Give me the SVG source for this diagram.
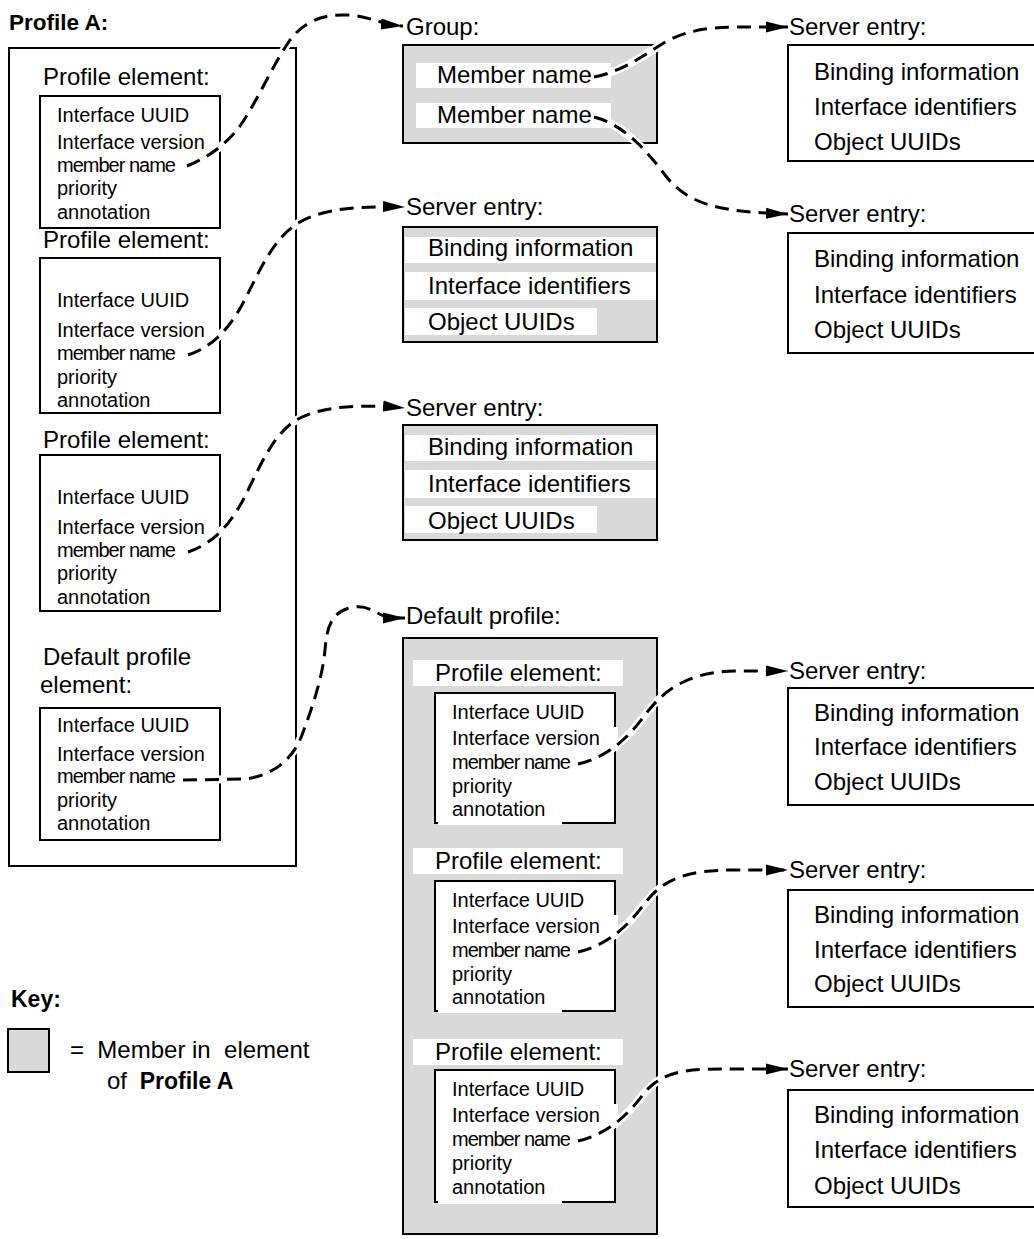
<svg xmlns="http://www.w3.org/2000/svg" width="1034" height="1239" viewBox="0 0 1034 1239">
  <style>
    text { font-family: "Liberation Sans", Arial, Helvetica, sans-serif; fill: #000; }
    .lbl { font-size: 24px; }
    .sm { font-size: 20px; }
    .mn { font-size: 20px; letter-spacing: -1px; }
    .b { font-weight: bold; }
    .box { fill: #fff; stroke: #000; stroke-width: 2; }
    .gray { fill: #d9d9d9; stroke: #000; stroke-width: 2; }
    .bar { fill: #fff; stroke: none; }
    .halo { fill: none; stroke: #fff; stroke-width: 8; }
    .wire { fill: none; stroke: #000; stroke-width: 3; stroke-dasharray: 14 8; marker-end: url(#arr); }
  </style>
  <defs>
    <marker id="arr" markerUnits="userSpaceOnUse" markerWidth="24" markerHeight="12" refX="22" refY="6" orient="auto">
      <path d="M0,0.5 L22,6 L0,11.5 z" fill="#000"/>
    </marker>
  </defs>

  <!-- Profile A and its elements -->
  <g id="profile-a">
    <text class="b" x="9" y="30" style="font-size:22.5px">Profile A:</text>
    <rect class="box" x="9" y="48" width="287" height="818"/>
  </g>

  <g id="pa-element-1">
    <text class="lbl" x="43" y="85">Profile element:</text>
    <rect class="box" x="40" y="96" width="180" height="132"/>
    <text class="sm" x="57" y="122">Interface UUID</text>
    <text class="sm" x="57" y="149">Interface version</text>
    <text class="mn" x="57" y="172">member name</text>
    <text class="sm" x="57" y="195">priority</text>
    <text class="sm" x="57" y="219">annotation</text>
  </g>

  <g id="pa-element-2">
    <text class="lbl" x="43" y="248">Profile element:</text>
    <rect class="box" x="40" y="258" width="180" height="155"/>
    <text class="sm" x="57" y="307">Interface UUID</text>
    <text class="sm" x="57" y="337">Interface version</text>
    <text class="mn" x="57" y="360">member name</text>
    <text class="sm" x="57" y="384">priority</text>
    <text class="sm" x="57" y="407">annotation</text>
  </g>

  <g id="pa-element-3">
    <text class="lbl" x="43" y="448">Profile element:</text>
    <rect class="box" x="40" y="455" width="180" height="156"/>
    <text class="sm" x="57" y="504">Interface UUID</text>
    <text class="sm" x="57" y="534">Interface version</text>
    <text class="mn" x="57" y="557">member name</text>
    <text class="sm" x="57" y="580">priority</text>
    <text class="sm" x="57" y="604">annotation</text>
  </g>

  <g id="pa-default-element">
    <text class="lbl" x="43" y="665">Default profile</text>
    <text class="lbl" x="40" y="693">element:</text>
    <rect class="box" x="40" y="708" width="180" height="132"/>
    <text class="sm" x="57" y="732">Interface UUID</text>
    <text class="sm" x="57" y="761">Interface version</text>
    <text class="mn" x="57" y="783">member name</text>
    <text class="sm" x="57" y="807">priority</text>
    <text class="sm" x="57" y="830">annotation</text>
  </g>

  <!-- Group -->
  <g id="group">
    <text class="lbl" x="406" y="35">Group:</text>
    <rect class="gray" x="403" y="45" width="254" height="98"/>
    <rect class="bar" x="416" y="63" width="195" height="25"/>
    <rect class="bar" x="416" y="103" width="195" height="25"/>
    <text class="lbl" x="437" y="83">Member name</text>
    <text class="lbl" x="437" y="123">Member name</text>
  </g>

  <!-- Server entries in the middle column -->
  <g id="server-entry-m1">
    <text class="lbl" x="406" y="215">Server entry:</text>
    <rect class="gray" x="403" y="227" width="254" height="115"/>
    <rect class="bar" x="405" y="237" width="251" height="26"/>
    <rect class="bar" x="405" y="272" width="251" height="28"/>
    <rect class="bar" x="405" y="308" width="192" height="27"/>
    <text class="lbl" x="428" y="256">Binding information</text>
    <text class="lbl" x="428" y="294">Interface identifiers</text>
    <text class="lbl" x="428" y="330">Object UUIDs</text>
  </g>

  <g id="server-entry-m2">
    <text class="lbl" x="406" y="416">Server entry:</text>
    <rect class="gray" x="403" y="425" width="254" height="115"/>
    <rect class="bar" x="405" y="435" width="251" height="26"/>
    <rect class="bar" x="405" y="470" width="251" height="28"/>
    <rect class="bar" x="405" y="506" width="192" height="27"/>
    <text class="lbl" x="428" y="455">Binding information</text>
    <text class="lbl" x="428" y="492">Interface identifiers</text>
    <text class="lbl" x="428" y="529">Object UUIDs</text>
  </g>

  <!-- Default profile -->
  <g id="default-profile">
    <text class="lbl" x="406" y="624">Default profile:</text>
    <rect class="gray" x="403" y="638" width="254" height="596"/>
  </g>

  <g id="dp-element-1">
    <rect class="bar" x="413" y="660" width="210" height="26"/>
    <text class="lbl" x="435" y="681">Profile element:</text>
    <rect class="box" x="435" y="693" width="180" height="130"/>
    <rect class="bar" x="437" y="727" width="181" height="24"/>
    <rect class="bar" x="438" y="797" width="124" height="28"/>
    <text class="sm" x="452" y="719">Interface UUID</text>
    <text class="sm" x="452" y="745">Interface version</text>
    <text class="mn" x="452" y="769">member name</text>
    <text class="sm" x="452" y="793">priority</text>
    <text class="sm" x="452" y="816">annotation</text>
  </g>

  <g id="dp-element-2">
    <rect class="bar" x="413" y="848" width="210" height="26"/>
    <text class="lbl" x="435" y="869">Profile element:</text>
    <rect class="box" x="435" y="881" width="180" height="130"/>
    <rect class="bar" x="437" y="915" width="181" height="24"/>
    <rect class="bar" x="438" y="985" width="124" height="28"/>
    <text class="sm" x="452" y="907">Interface UUID</text>
    <text class="sm" x="452" y="933">Interface version</text>
    <text class="mn" x="452" y="957">member name</text>
    <text class="sm" x="452" y="981">priority</text>
    <text class="sm" x="452" y="1004">annotation</text>
  </g>

  <g id="dp-element-3">
    <rect class="bar" x="413" y="1039" width="210" height="26"/>
    <text class="lbl" x="435" y="1060">Profile element:</text>
    <rect class="box" x="435" y="1070" width="180" height="132"/>
    <rect class="bar" x="437" y="1104" width="181" height="24"/>
    <rect class="bar" x="438" y="1176" width="124" height="28"/>
    <text class="sm" x="452" y="1096">Interface UUID</text>
    <text class="sm" x="452" y="1122">Interface version</text>
    <text class="mn" x="452" y="1146">member name</text>
    <text class="sm" x="452" y="1170">priority</text>
    <text class="sm" x="452" y="1194">annotation</text>
  </g>

  <!-- Server entries in the right column -->
  <g id="server-entry-r1">
    <text class="lbl" x="789" y="35">Server entry:</text>
    <rect class="box" x="788" y="45" width="250" height="116"/>
    <text class="lbl" x="814" y="80">Binding information</text>
    <text class="lbl" x="814" y="115">Interface identifiers</text>
    <text class="lbl" x="814" y="150">Object UUIDs</text>
  </g>

  <g id="server-entry-r2">
    <text class="lbl" x="789" y="222">Server entry:</text>
    <rect class="box" x="788" y="233" width="250" height="120"/>
    <text class="lbl" x="814" y="267">Binding information</text>
    <text class="lbl" x="814" y="303">Interface identifiers</text>
    <text class="lbl" x="814" y="338">Object UUIDs</text>
  </g>

  <g id="server-entry-r3">
    <text class="lbl" x="789" y="679">Server entry:</text>
    <rect class="box" x="788" y="688" width="250" height="117"/>
    <text class="lbl" x="814" y="721">Binding information</text>
    <text class="lbl" x="814" y="755">Interface identifiers</text>
    <text class="lbl" x="814" y="790">Object UUIDs</text>
  </g>

  <g id="server-entry-r4">
    <text class="lbl" x="789" y="878">Server entry:</text>
    <rect class="box" x="788" y="890" width="250" height="117"/>
    <text class="lbl" x="814" y="923">Binding information</text>
    <text class="lbl" x="814" y="958">Interface identifiers</text>
    <text class="lbl" x="814" y="992">Object UUIDs</text>
  </g>

  <g id="server-entry-r5">
    <text class="lbl" x="789" y="1077">Server entry:</text>
    <rect class="box" x="788" y="1090" width="250" height="117"/>
    <text class="lbl" x="814" y="1123">Binding information</text>
    <text class="lbl" x="814" y="1158">Interface identifiers</text>
    <text class="lbl" x="814" y="1194">Object UUIDs</text>
  </g>

  <!-- Key -->
  <g id="key">
    <text class="b" x="11" y="1007" style="font-size:23px">Key:</text>
    <rect class="gray" x="8" y="1029" width="41" height="43"/>
    <text class="lbl" x="70" y="1058" xml:space="preserve">=  Member in  element</text>
    <text class="lbl" x="107" y="1089">of <tspan class="b" dx="6" style="font-size:23px">Profile A</tspan></text>
  </g>

  <!-- Connectors: white casing under dashed black lines -->
  <g id="connectors">
    <path class="halo" d="M187,166 C207,158 226,145 240,126 C258,100 272,66 290,40 C305,20 325,14 348,15 C368,16 380,24 403,26"/>
    <path class="halo" d="M188,355 C212,347 228,330 242,305 C258,275 272,238 300,222 C325,208 360,206 405,207"/>
    <path class="halo" d="M188,552 C212,544 228,527 242,502 C258,472 272,432 300,418 C325,406 360,404 405,408"/>
    <path class="halo" d="M183,780 L245,779 C270,776 292,762 302,735 C312,708 322,680 325,650 C327,625 332,610 355,607 C372,605 380,618 392,618 L405,618"/>
    <path class="halo" d="M594,77 C620,72 640,58 662,44 C685,30 710,27 740,27 L788,27"/>
    <path class="halo" d="M594,117 C622,124 645,148 665,175 C688,205 720,212 788,214"/>
    <path class="halo" d="M578,764 C608,757 628,738 645,715 C665,688 690,672 735,671 L788,671"/>
    <path class="halo" d="M578,952 C608,945 628,926 645,903 C665,877 690,870 735,870 L788,870"/>
    <path class="halo" d="M578,1141 C608,1134 628,1115 645,1092 C665,1069 690,1069 735,1069 L788,1069"/>

    <path class="wire" d="M187,166 C207,158 226,145 240,126 C258,100 272,66 290,40 C305,20 325,14 348,15 C368,16 380,24 403,26"/>
    <path class="wire" d="M188,355 C212,347 228,330 242,305 C258,275 272,238 300,222 C325,208 360,206 405,207"/>
    <path class="wire" d="M188,552 C212,544 228,527 242,502 C258,472 272,432 300,418 C325,406 360,404 405,408"/>
    <path class="wire" d="M183,780 L245,779 C270,776 292,762 302,735 C312,708 322,680 325,650 C327,625 332,610 355,607 C372,605 380,618 392,618 L405,618"/>
    <path class="wire" d="M594,77 C620,72 640,58 662,44 C685,30 710,27 740,27 L788,27"/>
    <path class="wire" d="M594,117 C622,124 645,148 665,175 C688,205 720,212 788,214"/>
    <path class="wire" d="M578,764 C608,757 628,738 645,715 C665,688 690,672 735,671 L788,671"/>
    <path class="wire" d="M578,952 C608,945 628,926 645,903 C665,877 690,870 735,870 L788,870"/>
    <path class="wire" d="M578,1141 C608,1134 628,1115 645,1092 C665,1069 690,1069 735,1069 L788,1069"/>
  </g>
</svg>
